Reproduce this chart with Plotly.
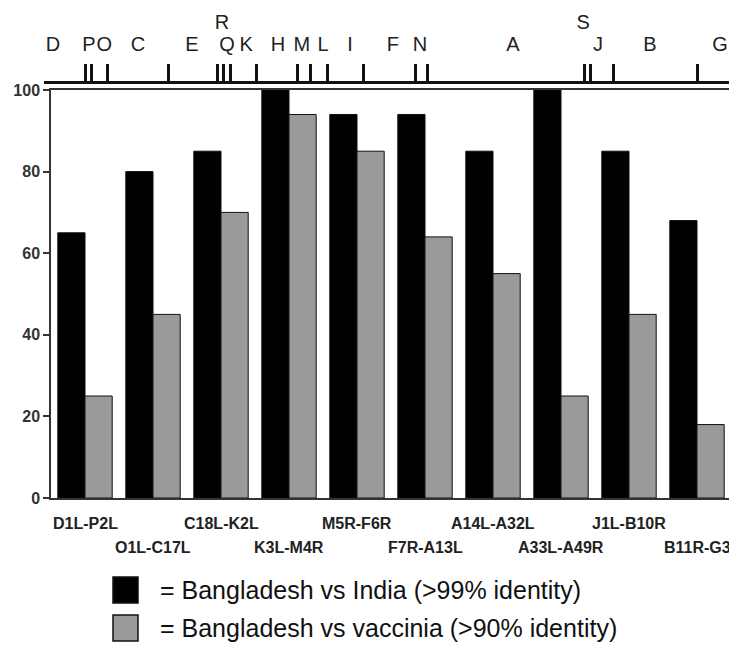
import plotly.graph_objects as go

# ---- data ----
regions = ["D1L-P2L", "O1L-C17L", "C18L-K2L", "K3L-M4R", "M5R-F6R",
           "F7R-A13L", "A14L-A32L", "A33L-A49R", "J1L-B10R", "B11R-G3"]
india = [65, 80, 85, 100, 94, 94, 85, 100, 85, 68]
vaccinia = [25, 45, 70, 94, 85, 64, 55, 25, 45, 18]

# HindIII map (kb)
map_boundaries = [11.3, 12.9, 17.2, 33.4, 46.6, 48.2, 50.1, 57.1, 68.1, 71.6,
                  76.4, 86.1, 99.9, 103.1, 145.6, 147.2, 153.2, 176.0]
fragment_letters = ["D", "P", "O", "C", "E", "R", "Q", "K", "H", "M", "L",
                    "I", "F", "N", "A", "S", "J", "B", "G"]
fragment_pos = [2.4, 12.1, 16.2, 25.3, 39.8, 47.9, 49.3, 54.4, 63.0, 69.4, 75.1,
                82.4, 93.9, 101.2, 126.2, 145.1, 149.1, 163.1, 182.0]
fragment_row = [0, 0, 0, 0, 0, 1, 0, 0, 0, 0, 0, 0, 0, 0, 0, 1, 0, 0, 0]
genome_len = 186

legend_labels = ["= Bangladesh vs India (>99% identity)",
                 "= Bangladesh vs vaccinia (>90% identity)"]

W, H = 737, 654
OFF = 8  # page body margin
FONT = "Liberation Sans, Arial, sans-serif"
BLACK = "#000000"
GRAY = "#9a9a9a"
AX = "#333333"

def px(x):
    return (x - OFF) / W

def py(y):
    return (H - (y - OFF)) / H

idx = list(range(len(regions)))

fig = go.Figure()
fig.add_trace(go.Bar(x=idx, y=india, marker=dict(color=BLACK, line=dict(color="#111", width=1)),
                     name=legend_labels[0], showlegend=False))
fig.add_trace(go.Bar(x=idx, y=vaccinia, marker=dict(color=GRAY, line=dict(color="#111", width=1)),
                     name=legend_labels[1], showlegend=False))

fig.add_trace(go.Scatter(x=fragment_pos, y=fragment_row, mode="text", text=fragment_letters,
                         textfont=dict(family=FONT, size=20, color="#222"),
                         xaxis="x2", yaxis="y2", showlegend=False, hoverinfo="skip",
                         cliponaxis=False))

annotations = []
for i, lab in enumerate(regions):
    annotations.append(dict(x=i, y=py(523 if i % 2 == 0 else 547), xref="x", yref="paper",
                            text=lab, showarrow=False, xanchor="center", yanchor="middle",
                            font=dict(family=FONT, size=16, color="#222", weight="bold")))
shapes = []
for k, (lab, col) in enumerate(zip(legend_labels, [BLACK, GRAY])):
    top = 577 + 38 * k
    shapes.append(dict(type="rect", xref="paper", yref="paper",
                       x0=px(113), x1=px(138), y0=py(top), y1=py(top + 26),
                       fillcolor=col, line=dict(color="#111", width=1.5)))
    annotations.append(dict(x=px(158), y=py(top + 13), xref="paper", yref="paper",
                            text=lab, showarrow=False, xanchor="left", yanchor="middle",
                            font=dict(family=FONT, size=25, color="#111")))

fig.update_layout(
    width=W, height=H,
    margin=dict(l=0, r=0, t=0, b=0, autoexpand=False),
    paper_bgcolor="white", plot_bgcolor="white",
    barmode="group", bargap=0.2, bargroupgap=0,
    xaxis=dict(domain=[px(51), px(731)], range=[-0.5, 9.5], showticklabels=False,
               showgrid=False, zeroline=False, showline=True, linecolor=AX, linewidth=1.5,
               mirror=True, ticks="", automargin=False),
    yaxis=dict(domain=[py(498), py(90)], range=[0, 100], tickvals=[0, 20, 40, 60, 80, 100],
               showgrid=False, zeroline=False, showline=True, linecolor=AX, linewidth=1.5,
               mirror=True, ticks="outside", ticklen=6, tickwidth=1.5, tickcolor=AX,
               tickfont=dict(family=FONT, size=16, color="#333", weight="bold"),
               automargin=False),
    xaxis2=dict(domain=[px(44), px(735)], range=[0, genome_len], anchor="y2",
                showgrid=False, zeroline=False, showline=True, linecolor="#111", linewidth=3,
                ticks="inside", tickvals=map_boundaries, ticklen=17, tickwidth=2.5,
                tickcolor="#111", showticklabels=False, automargin=False),
    yaxis2=dict(domain=[py(80.5), 1.0], range=[-1.604, 1.75], anchor="x2",
                visible=False, automargin=False),
    shapes=shapes,
    annotations=annotations,
)

fig.write_html("out.html")
